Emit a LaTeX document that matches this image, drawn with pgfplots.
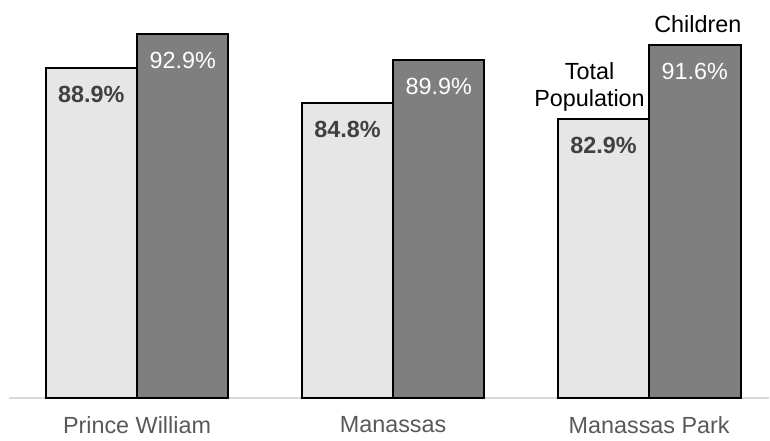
\documentclass[border=0pt]{standalone}
\usepackage{fontspec}
\setmainfont{Liberation Sans}
\usepackage{pgfplots}
\pgfplotsset{compat=1.18}
\definecolor{lightbar}{HTML}{E6E6E6}
\definecolor{darkbar}{HTML}{7F7F7F}
\definecolor{lbltext}{HTML}{404040}
\definecolor{ticktext}{HTML}{595959}
\definecolor{axisgray}{HTML}{D9D9D9}
\begin{document}
\begin{tikzpicture}
\begin{axis}[
  scale only axis,
  width=380.5pt, height=195.5pt,
  xmin=-0.5, xmax=2.468,
  ymin=50, ymax=96,
  axis y line=none,
  axis x line*=bottom,
  x axis line style={axisgray, line width=1pt},
  xtick={0,1,2},
  xticklabels={Prince William, Manassas, Manassas Park},
  major tick length=0pt,
  xticklabel style={font=\fontsize{11.7}{14}\selectfont, text=ticktext, yshift=-5.5pt},
  ybar,
  bar width=0.3567,
  clip=false,
  /pgf/number format/assume math mode=true,
  nodes near coords={\pgfmathprintnumber[fixed,fixed zerofill,precision=1]{\pgfplotspointmeta}\%},
  every node near coord/.append style={anchor=center, yshift=-13.25pt, font=\fontsize{11.7}{14}\selectfont},
]
\addplot[bar shift=-0.1784, fill=lightbar, draw=black, line width=1pt,
  every node near coord/.append style={text=lbltext, font=\fontsize{11.7}{14}\selectfont\bfseries}]
  coordinates {(0,88.9) (1,84.8) (2,82.9)};
\addplot[bar shift=0.1784, fill=darkbar, draw=black, line width=1pt,
  every node near coord/.append style={text=white}]
  coordinates {(0,92.9) (1,89.9) (2,91.6)};
\node[anchor=south, align=center, font=\fontsize{11.7}{13.3}\selectfont, xshift=-7pt, yshift=0.5pt]
  at (axis cs:1.8216,82.9) {Total\\Population};
\node[anchor=south, font=\fontsize{11.7}{14}\selectfont, xshift=1.5pt, yshift=3pt]
  at (axis cs:2.1784,91.6) {Children};
\path ([shift={(-4.5pt,-19.5pt)}]current axis.south west) rectangle ([shift={(0pt,4pt)}]current axis.north east);
\end{axis}
\end{tikzpicture}
\end{document}
